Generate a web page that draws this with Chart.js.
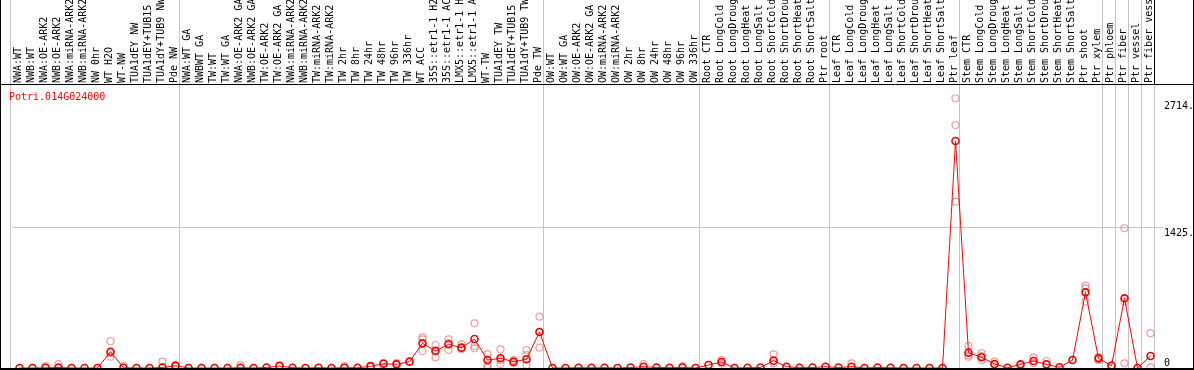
<!DOCTYPE html>
<html><head><meta charset="utf-8">
<script src="https://cdn.jsdelivr.net/npm/chart.js@4"></script>
<style>html,body{margin:0;padding:0;background:#fff;overflow:hidden}canvas{display:block}</style>
</head><body>
<canvas id="c" width="1194" height="370"></canvas>
<script>
const categories = [
 'NWA:WT','NWB:WT','NWA:OE-ARK2','NWB:OE-ARK2','NWA:miRNA-ARK2','NWB:miRNA-ARK2','NW 0hr','WT H2O','WT-NW','TUA1dEY NW','TUA1dEY+TUB15 NW','TUA1dY+TUB9 NW','Pde NW',
 'NWA:WT GA','NWBWT GA','TW:WT','TW:WT GA','NWA:OE-ARK2 GA','NWB:OE-ARK2 GA','TW:OE-ARK2','TW:OE-ARK2 GA','NWA:miRNA-ARK2','NWB:miRNA-ARK2','TW:miRNA-ARK2','TW:miRNA-ARK2','TW 2hr','TW 8hr','TW 24hr','TW 48hr','TW 96hr','TW 336hr','WT ACC','35S::etr1-1 H2O','35S::etr1-1 ACC','LMX5::etr1-1 H2O','LMX5::etr1-1 ACC','WT-TW','TUA1dEY TW','TUA1dEY+TUB15 TW','TUA1dY+TUB9 TW','Pde TW',
 'OW:WT','OW:WT GA','OW:OE-ARK2','OW:OE-ARK2 GA','OW:miRNA-ARK2','OW:miRNA-ARK2','OW 2hr','OW 8hr','OW 24hr','OW 48hr','OW 96hr','OW 336hr',
 'Root CTR','Root LongCold','Root LongDrought','Root LongHeat','Root LongSalt','Root ShortCold','Root ShortDrought','Root ShortHeat','Root ShortSalt','Ptr root',
 'Leaf CTR','Leaf LongCold','Leaf LongDrought','Leaf LongHeat','Leaf LongSalt','Leaf ShortCold','Leaf ShortDrought','Leaf ShortHeat','Leaf ShortSalt','Ptr leaf',
 'Stem CTR','Stem LongCold','Stem LongDrought','Stem LongHeat','Stem LongSalt','Stem ShortCold','Stem ShortDrought','Stem ShortHeat','Stem ShortSalt','Ptr shoot','Ptr xylem',
 'Ptr phloem','Ptr fiber','Ptr vessel','Ptr fiber vessel'
];
const meanValues = [
 0,0,2,5,0,0,0,166,3,0,0,5,23,
 0,0,0,0,3,0,5,20,3,0,3,0,3,2,17,44,37,64,251,173,241,207,295,81,99,64,89,366,
 0,0,3,2,3,0,5,13,5,3,5,0,
 30,61,0,3,5,75,13,3,5,13,
 5,13,0,5,3,0,0,0,0,2310,
 156,109,41,3,37,71,37,7,81,770,98,
 23,709,0,122
];
const replicateA = [
 null,null,20,40,null,null,null,272,23,null,null,64,30,
 null,null,null,null,30,null,null,30,null,null,null,null,20,null,25,0,50,70,312,234,292,241,455,142,190,81,183,522,
 null,null,null,null,null,null,null,40,null,null,20,null,
 null,81,null,null,null,139,null,null,null,null,
 null,48,null,null,null,null,null,null,null,2745,
 224,150,64,null,15,109,71,null,null,838,110,
 30,1422,null,353
];
const replicateB = [
 null,null,null,2,null,null,null,115,null,null,null,10,15,
 null,null,null,null,null,null,null,null,null,null,null,null,0,null,null,50,null,null,173,109,183,190,224,31,41,48,132,207,
 null,null,null,null,null,null,null,null,null,null,null,null,
 null,45,null,null,null,48,null,null,null,null,
 null,null,null,null,null,null,null,null,null,2473,
 115,81,30,null,null,50,null,null,null,675,80,
 null,675,null,7
];
const replicateC = [
 null,null,null,null,null,null,null,150,null,null,null,null,null,
 null,null,null,null,null,null,null,null,null,null,null,null,null,null,null,null,null,null,292,180,250,207,200,3,80,64,31,366,
 null,null,null,null,null,null,null,null,null,null,null,null,
 null,null,null,null,null,null,null,null,null,null,
 null,null,null,null,null,null,null,null,null,1693,
 130,120,null,null,null,null,null,null,null,810,null,
 null,48,null,null
];
const groupStarts = [0,13,41,53,63,73,84,85,86,87,88];
const yTickValues = [0,1425,2714];
const yTickLabels = ['0','1425.','2714.'];
const yMax = 2880;
const geneId = 'Potri.014G024000';

const FONT = {family:'"DejaVu Sans Mono", "Liberation Mono", monospace', size:10};
const GRAY = '#c4c4c4';

const decor = {
  id:'decor',
  beforeDraw(chart){
    const {ctx, scales:{x, y}} = chart;
    const items = y.getLabelItems();
    items.forEach(it => { if (it.label === yTickLabels[0]) it.options.textBaseline = 'bottom'; });
    ctx.save();
    ctx.lineWidth = 1;
    groupStarts.forEach((k, i) => {
      const px = Math.round(x.getPixelForValue(k - 0.5) - 3) + 0.5;
      ctx.strokeStyle = GRAY;
      ctx.beginPath(); ctx.moveTo(px, 0); ctx.lineTo(px, chart.height); ctx.stroke();
      if (i === groupStarts.length - 1) {
        ctx.strokeStyle = '#000';
        ctx.beginPath(); ctx.moveTo(px, 0); ctx.lineTo(px, chart.chartArea.top); ctx.stroke();
      }
    });
    ctx.restore();
  },
  afterDraw(chart){
    const {ctx, chartArea:a, width, height} = chart;
    ctx.save();
    ctx.strokeStyle = '#000';
    ctx.lineWidth = 1;
    ctx.beginPath();
    ctx.moveTo(0, a.top - 0.5); ctx.lineTo(width, a.top - 0.5);
    ctx.moveTo(0.5, 0); ctx.lineTo(0.5, height);
    ctx.moveTo(width - 0.5, 0); ctx.lineTo(width - 0.5, height);
    ctx.stroke();
    ctx.lineWidth = 2;
    ctx.beginPath(); ctx.moveTo(0, height - 1); ctx.lineTo(width, height - 1); ctx.stroke();
    ctx.fillStyle = '#ff0000';
    ctx.font = '10px ' + FONT.family;
    ctx.textBaseline = 'middle';
    ctx.textAlign = 'left';
    ctx.fillText(geneId, a.left - 4, a.top + 12);
    ctx.restore();
  }
};

const repStyle = {
  type:'line', showLine:false, pointRadius:3.5, pointBorderWidth:1.2,
  pointBorderColor:'rgba(238,130,130,0.8)', pointBackgroundColor:'rgba(0,0,0,0)', clip:false
};

new Chart(document.getElementById('c'), {
  type:'line',
  data:{
    labels: categories,
    datasets:[
      {data: meanValues, borderColor:'#ff0000', borderWidth:1, tension:0,
       pointRadius:3.5, pointBorderWidth:1.6, pointBorderColor:'#ee0000',
       pointBackgroundColor:'rgba(0,0,0,0)', clip:false},
      Object.assign({data: replicateA}, repStyle),
      Object.assign({data: replicateB}, repStyle),
      Object.assign({data: replicateC}, repStyle)
    ]
  },
  options:{
    responsive:false, animation:false, devicePixelRatio:1,
    layout:{autoPadding:false, padding:{left:13, right:0, top:0, bottom:2}},
    plugins:{legend:{display:false}, tooltip:{enabled:false}, title:{display:false}},
    scales:{
      x:{
        position:'top', offset:true,
        grid:{display:false, drawTicks:false}, border:{display:false},
        ticks:{autoSkip:false, minRotation:90, maxRotation:90, padding:2, labelOffset:11,
               color:'#000', font:FONT},
        afterFit(s){ s.height = 85; s.paddingLeft = 0; s.paddingRight = 0; }
      },
      y:{
        position:'right', min:0, max:yMax,
        afterBuildTicks(s){ s.ticks = yTickValues.map(v => ({value:v})); },
        grid:{drawTicks:true, tickLength:6,
              color: c => (c.tick && c.tick.value === yTickValues[1]) ? GRAY : 'rgba(0,0,0,0)'},
        border:{display:false},
        ticks:{align:'start', padding:1, color:'#000', font:FONT,
               callback:(v, i) => yTickLabels[i]},
        afterFit(s){ s.width = 37; s.paddingTop = 0; s.paddingBottom = 0; }
      }
    }
  },
  plugins:[decor]
});
</script>
</body></html>
